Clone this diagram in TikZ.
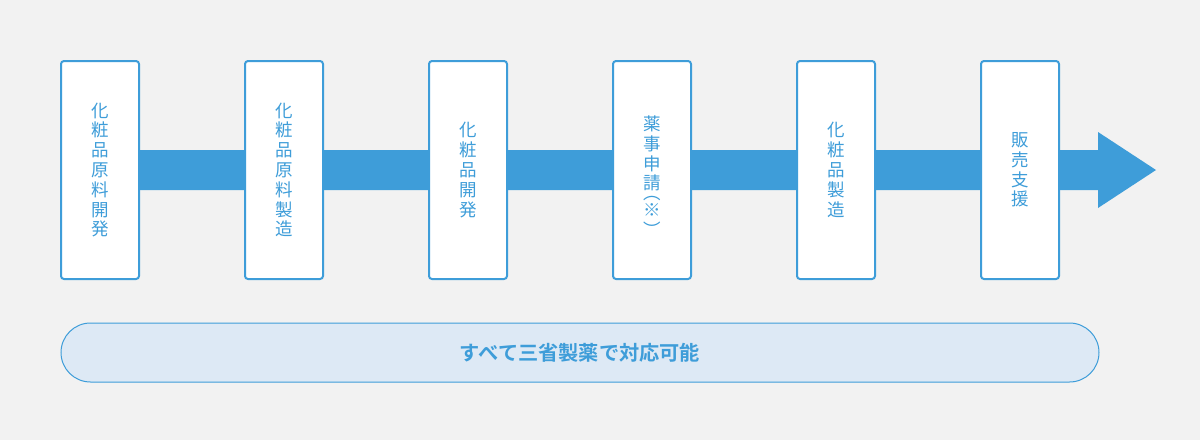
\documentclass[tikz,border=0pt]{standalone}
\usepackage{fontspec}
\newfontfamily\cjk{Noto Sans CJK JP}
\newfontfamily\cjkb{Noto Sans CJK JP Bold}
\definecolor{mainblue}{HTML}{3E9DD9}
\definecolor{bgray}{HTML}{F2F2F2}
\definecolor{pillfill}{HTML}{DDE9F5}
\begin{document}
\begin{tikzpicture}[x=1pt,y=-1pt,
  stepbox/.style={draw=mainblue,line width=2pt,fill=white,rounded corners=3pt,
    minimum width=78pt,minimum height=218pt,inner sep=0pt,align=center,
    text=mainblue,font=\cjk\fontsize{17.5}{19.8}\selectfont},
  steptext/.style={inner sep=0pt,align=center,
    text=mainblue,font=\cjk\fontsize{17.5}{19.8}\selectfont},
  pill/.style={draw=mainblue,line width=1pt,fill=pillfill,rounded corners=29.5pt,
    minimum width=1038pt,minimum height=59pt,inner sep=0pt,
    text=mainblue,font=\cjkb\fontsize{20.2}{22}\selectfont}]
\fill[bgray] (0,0) rectangle (1200,440);
\useasboundingbox (0,0) rectangle (1200,440);
% main arrow
\coordinate (bs) at (139,170);
\coordinate (tip) at (1156,170);
\fill[mainblue] (139,150) -- (1098,150) -- (1098,132) -- (tip)
  -- (1098,208) -- (1098,190) -- (139,190) -- cycle;
\node[stepbox] (s1) at (100,170) {化\\粧\\品\\原\\料\\開\\発};
\node[stepbox] (s2) at (284,170) {化\\粧\\品\\原\\料\\製\\造};
\node[stepbox] (s3) at (468,170) {化\\粧\\品\\開\\発};
\node[stepbox] (s4) at (652,170) {};
\node[steptext] (s4t) at (652,176) {薬\\事\\申\\請\\[-10pt]︵\\[-3pt]※\\︶};
\node[stepbox] (s5) at (836,170) {化\\粧\\品\\製\\造};
\node[stepbox] (s6) at (1020,170) {販\\売\\支\\援};
\node[pill] (all) at (580,352.5) {すべて三省製薬で対応可能};
\end{tikzpicture}
\end{document}
